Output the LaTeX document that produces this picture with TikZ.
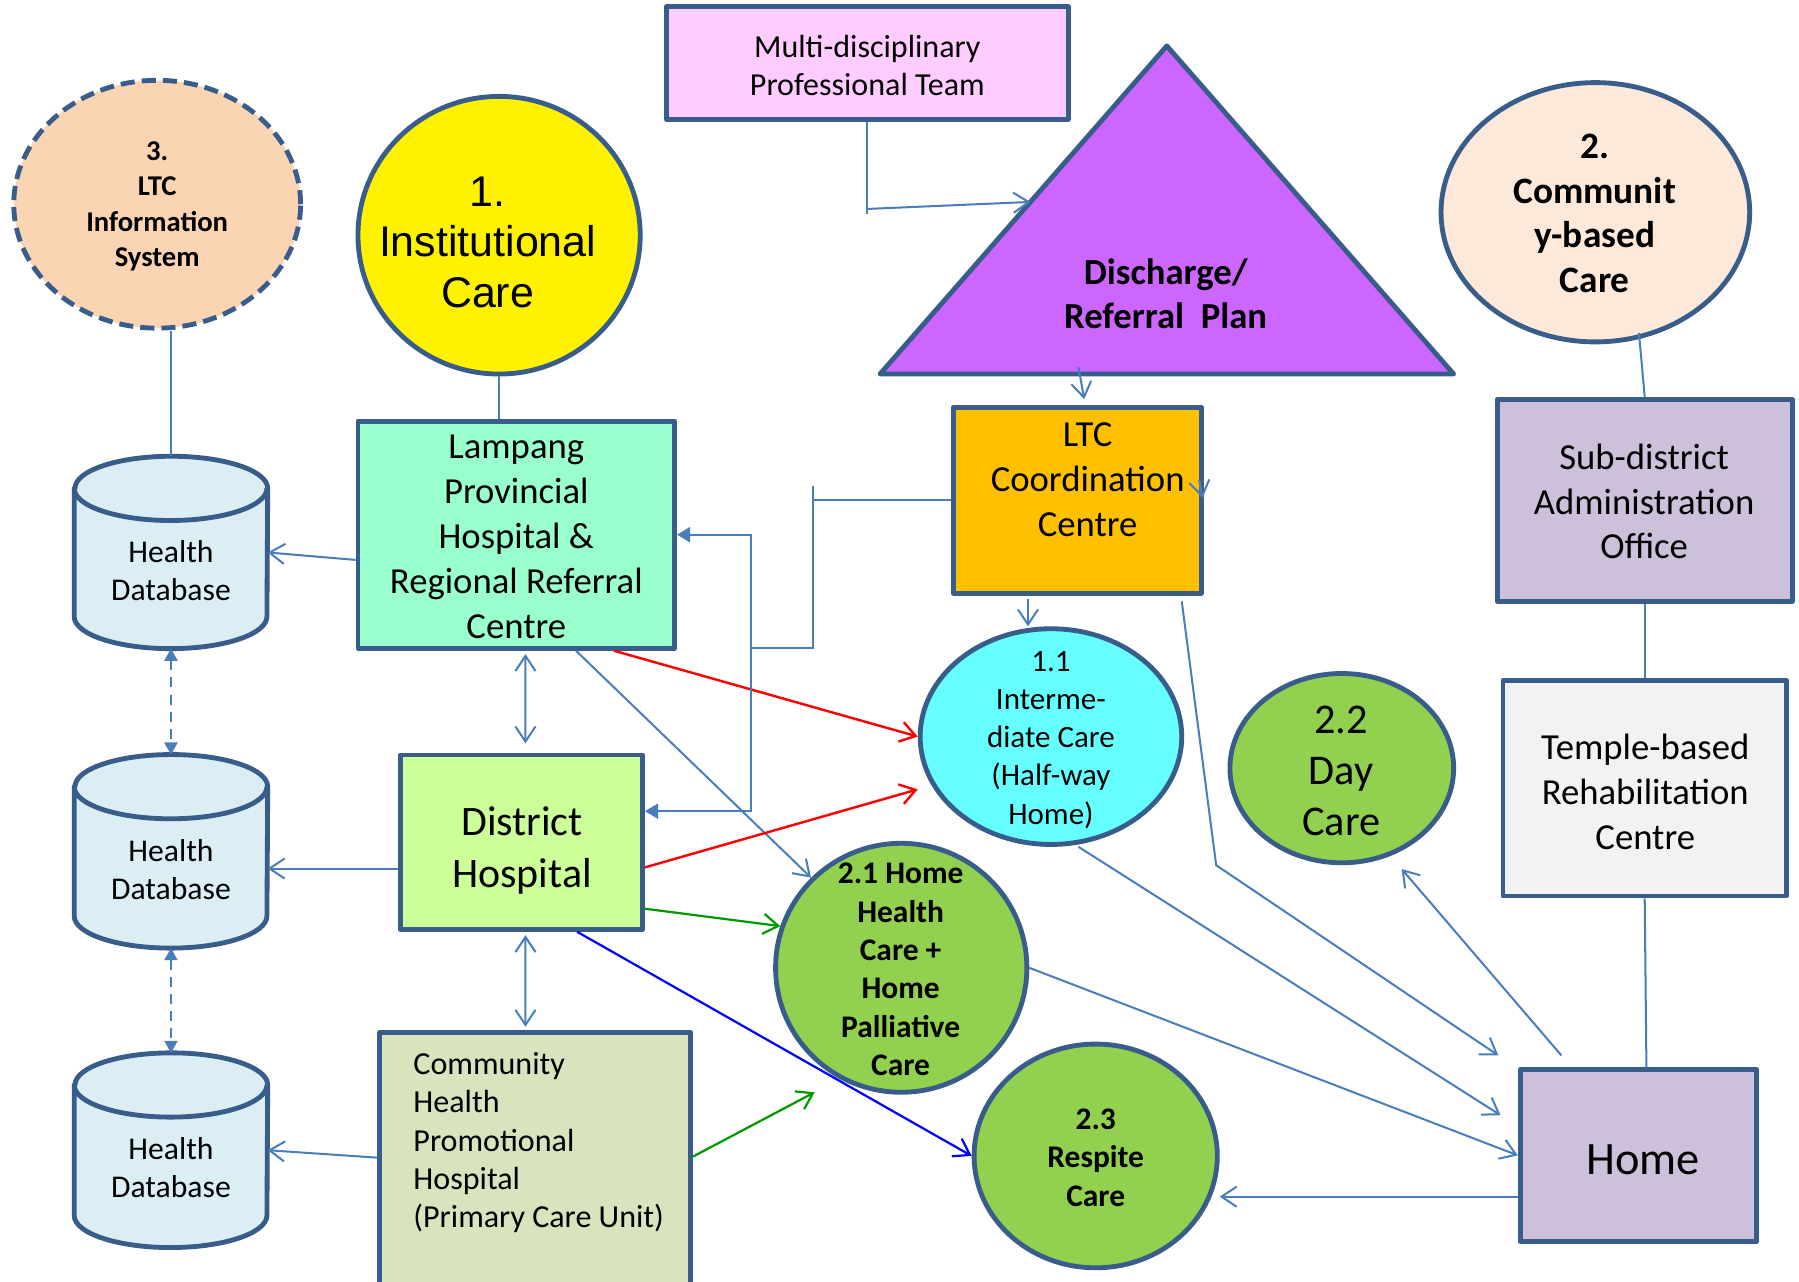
\documentclass[tikz,border=0pt]{standalone}
\usepackage{fontspec}
\setmainfont{Carlito}
\newfontfamily\arialfont{Liberation Sans}
\usetikzlibrary{shapes.geometric,arrows.meta,calc}

\definecolor{edge}{HTML}{385D8A}
\definecolor{link}{HTML}{4A7EBB}
\definecolor{infofill}{HTML}{FBD4B4}
\definecolor{mdtfill}{HTML}{FFCCFF}
\definecolor{planfill}{HTML}{CC66FF}
\definecolor{commfill}{HTML}{FDE9D9}
\definecolor{lilac}{HTML}{CCC0DA}
\definecolor{templefill}{HTML}{F2F2F2}
\definecolor{ltcfill}{HTML}{FFC000}
\definecolor{lampfill}{HTML}{99FFCC}
\definecolor{distfill}{HTML}{CCFF99}
\definecolor{chpcfill}{HTML}{D7E4BD}
\definecolor{interfill}{HTML}{66FFFF}
\definecolor{carefill}{HTML}{92D050}
\definecolor{dbfill}{HTML}{DBEEF4}
\definecolor{redline}{HTML}{FF0000}
\definecolor{greenline}{HTML}{009900}
\definecolor{blueline}{HTML}{0000FF}

\newcommand\fsz[2]{\fontsize{#1pt}{#2pt}\selectfont}
% database cylinder drawn around an invisible rectangle node
\newcommand\dbshape[1]{%
  \filldraw[shapeline,fill=dbfill]
    ($(#1.north west)+(0,-28)$) -- ($(#1.south west)+(0,28)$)
    arc[start angle=180,end angle=360,x radius=84,y radius=28]
    -- ($(#1.north east)+(0,-28)$)
    arc[start angle=0,end angle=180,x radius=84,y radius=28] -- cycle;
  \draw[shapeline] ($(#1.north west)+(0,-28)$)
    arc[start angle=180,end angle=360,x radius=84,y radius=28];}

\begin{document}
\begin{tikzpicture}[x=0.02cm,y=0.02cm,
  shapeline/.style={draw=edge,line width=2.4pt,line join=round},
  sz/.style 2 args={minimum width=#1*0.02cm,minimum height=#2*0.02cm},
  box/.style={shapeline,rectangle,inner sep=0pt},
  oval/.style={shapeline,ellipse,inner sep=0pt},
  hold/.style={rectangle,inner sep=0pt},
  txt/.style={inner sep=0pt,align=center,text=black},
  conn/.style={draw=link,line width=1pt},
  redconn/.style={draw=redline,line width=1.2pt},
  greenconn/.style={draw=greenline,line width=1.1pt},
  blueconn/.style={draw=blueline,line width=1.1pt},
  >={Straight Barb[length=7.5pt,width=10pt]},
  fillhead/.style={-{Triangle[length=6.5pt,width=7.5pt]}},
  dbheads/.style={{Triangle[length=6pt,width=6.5pt]}-{Triangle[length=6pt,width=6.5pt]}},
]
\useasboundingbox (0,0) rectangle (1568,-1117);
\clip (0,0) rectangle (1568,-1117);
\fill[white] (0,0) rectangle (1568,-1117);

% ---------- shapes ----------
\node[oval,fill=infofill,dash pattern=on 7pt off 3.5pt,sz={250}{216}] (info) at (137,-178) {};
\node[txt,font=\bfseries\fsz{14.2}{17.6}] (info-t) at (137,-180) {3.\\LTC\\Information\\System};

\node[oval,fill=yellow,sz={246}{242}] (inst) at (435,-205) {};
\node[txt,font=\arialfont\fsz{21.3}{25}] (inst-t) at (425,-211) {1.\\Institutional\\Care};

\node[box,fill=mdtfill,sz={350}{98}] (mdt) at (756,-55) {};
\node[txt,font=\fsz{15.9}{18.8}] (mdt-t) at (756,-57) {Multi-disciplinary\\Professional Team};

\filldraw[shapeline,fill=planfill] (1017,-40) coordinate (tri-top)
  -- (1267,-326) coordinate (tri-rb) -- (767,-326) coordinate (tri-lb) -- cycle;
\coordinate (tri-l) at ($(tri-top)!0.4755!(tri-lb)$);
\coordinate (tri-b) at (940,-320);
\node[txt,font=\bfseries\fsz{18.2}{21.6}] (plan-t) at (1016,-256) {Discharge/\\Referral\ \ Plan};

\node[oval,fill=commfill,sz={269}{226}] (comm) at (1390.5,-185) {};
\node[txt,font=\bfseries\fsz{18.5}{22}] (comm-t) at (1390,-186) {2.\\Communit\\y-based\\Care};

\node[box,fill=lilac,sz={257}{176}] (sub) at (1433.5,-436) {};
\node[txt,font=\fsz{18.2}{22.3}] (sub-t) at (1433,-437) {Sub-district\\Administration\\Office};

\node[box,fill=templefill,sz={247}{188}] (temple) at (1433.5,-687) {};
\node[txt,font=\fsz{18.2}{22.3}] (temple-t) at (1434,-690) {Temple-based\\Rehabilitation\\Centre};

\node[box,fill=lilac,sz={206}{150}] (home) at (1428,-1007) {};
\node[txt,font=\fsz{23}{27}] (home-t) at (1432,-1011) {Home};

\node[box,fill=ltcfill,sz={216}{162}] (ltc) at (939,-436) {};
\node[txt,font=\fsz{18.2}{22.3}] (ltc-t) at (948,-418) {LTC\\Coordination\\Centre};

\node[box,fill=lampfill,sz={276}{198}] (lampang) at (450,-466) {};
\node[txt,font=\fsz{18.2}{22.3}] (lampang-t) at (450,-468) {Lampang\\Provincial\\Hospital \&\\Regional Referral\\Centre};

\node[box,fill=distfill,sz={211}{152}] (district) at (454.5,-734) {};
\node[txt,font=\fsz{20.8}{25.6}] (district-t) at (455,-741) {District\\Hospital};

\node[box,fill=chpcfill,sz={271}{240}] (chpc) at (466.5,-1020) {};
\node[txt,align=left,anchor=west,font=\fsz{15.9}{19}] (chpc-t) at (360,-996) {Community\\Health\\Promotional\\Hospital\\(Primary Care Unit)};

\node[oval,fill=interfill,sz={228}{188}] (inter) at (916,-642) {};
\node[txt,font=\fsz{15.4}{18.9}] (inter-t) at (916,-645) {1.1\\Interme-\\diate Care\\(Half-way\\Home)};

\node[oval,fill=carefill,sz={195}{165}] (day) at (1169.5,-669.5) {};
\node[txt,font=\fsz{21}{25.3}] (day-t) at (1169,-672) {2.2\\Day\\Care};

\node[oval,fill=carefill,sz={219}{217}] (hhc) at (785.5,-843.5) {};
\node[txt,font=\bfseries\fsz{15.6}{19}] (hhc-t) at (785,-845) {2.1 Home\\Health\\Care +\\Home\\Palliative\\Care};

\node[oval,fill=carefill,sz={212}{195}] (resp) at (955,-1007.5) {};
\node[txt,font=\bfseries\fsz{15.6}{19}] (resp-t) at (955,-1009) {2.3\\Respite\\Care};

\node[hold,sz={168}{167}] (db1) at (149,-481.5) {};
\node[hold,sz={168}{168}] (db2) at (149,-742) {};
\node[hold,sz={168}{169}] (db3) at (149,-1002.5) {};
\dbshape{db1}\dbshape{db2}\dbshape{db3}
\node[txt,font=\fsz{15.7}{18.8}] (db1-t) at (149,-497) {Health\\Database};
\node[txt,font=\fsz{15.7}{18.8}] (db2-t) at (149,-758) {Health\\Database};
\node[txt,font=\fsz{15.7}{18.8}] (db3-t) at (149,-1018) {Health\\Database};

% ---------- connectors ----------
\draw[conn] (db1.north |- info.south) -- (db1.north);
\draw[conn] (inst.south) -- (inst.south |- lampang.north);

\draw[conn,->] ($(lampang.west)+(0,-22)$) -- (db1.east);
\draw[conn,->] ($(district.west)+(0,-23)$) coordinate (dw) -- (dw -| db2.east);
\draw[conn,->] ($(chpc.west)+(0,11)$) -- (db3.east);

\draw[conn,dbheads,dash pattern=on 5pt off 3.5pt] (db1.south) -- (db2.north);
\draw[conn,dbheads,dash pattern=on 5pt off 3.5pt] (db2.south) -- (db3.north);

\draw[conn,<->] ($(lampang.south)+(8,-3)$) -- ($(district.north)+(3.5,8)$);
\draw[conn,<->] ($(district.south)+(3.5,-3)$) -- ($(chpc.north)+(-8.5,3)$);

\draw[conn,->] ($(lampang.south)+(52,0)$) -- (hhc.135);
\draw[redconn,->] ($(lampang.south)+(85,0)$) -- (inter.west);
\draw[redconn,->] ($(district.east)+(0,-22)$) -- ($(inter.west)+(0,-46)$);
\draw[greenconn,->] ($(district.east)+(0,-58)$) -- (hhc.161);
\coordinate (gend) at (710,-952);
\draw[greenconn,->] ($(chpc.east)+(0,12)$) -- (gend);
\draw[blueconn,->] ($(district.south)+(48.5,0)$) -- (resp.west);

\draw[conn] (mdt.south) -- ++(0,-80);
\draw[conn,->] ($(mdt.south)+(0,-76)$) -- (tri-l);
\draw[conn,->] (tri-b) -- ($(ltc.north)+(6,5)$);
\draw[conn,->] ($(ltc.south)+(-43,-3)$) coordinate (r1) -- (r1 |- inter.north);

\draw[conn] (ltc.west) -- ++(-120,0) coordinate (s1);
\draw[conn] ($(s1)+(0,12)$) -- ($(s1)+(0,-129)$) -- ++(-54,0) coordinate (s2);
\draw[conn,fillhead] (s2) -- (s2 |- lampang.east) -- (lampang.east);
\draw[conn,fillhead] (s2) -- ($(s2 |- district.east)+(0,27)$) coordinate (s3) -- (s3 -| district.east);
\draw[conn,->] ($(ltc.east)+(-4,18)$) -- ($(ltc.east)+(-1,2)$);

\draw[conn,->] ($(ltc.south)+(91,-5)$) -- ++(30,-230) -- ($(home.north west)+(-17,10)$);
\draw[conn,->] ($(inter.south)+(24,0)$) -- ($(home.west)+(-15,35)$);
\draw[conn,->] (hhc.east) -- (home.west);
\draw[conn,->,shorten >=0.3cm] ($(home.north west)+(38,10)$) -- (day.-61);
\draw[conn,->] ($(home.west)+(0,-36)$) coordinate (hy) -- (hy -| resp.east);

\draw[conn] ($(comm.south)+(38,10)$) -- (sub.north);
\draw[conn] (sub.south) -- (temple.north);
\draw[conn] (temple.south) -- ($(home.north)+(7,0)$);
\end{tikzpicture}
\end{document}
